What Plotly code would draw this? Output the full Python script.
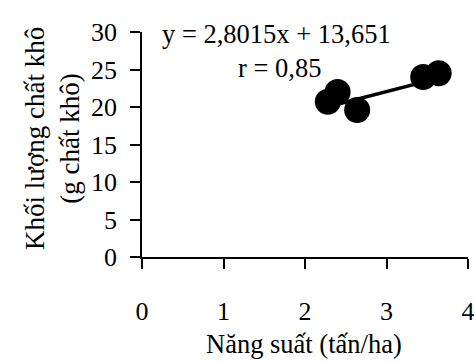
import plotly.graph_objects as go

# Data
nang_suat = [2.28, 2.40, 2.64, 3.45, 3.64]          # tấn/ha
khoi_luong = [20.7, 22.0, 19.6, 24.0, 24.5]          # g chất khô
slope = 2.8015
intercept = 13.651
eq_text = "y = 2,8015x + 13,651"
r_text = "r = 0,85"
x_title = "Năng suất (tấn/ha)"
y_title = "Khối lượng chất khô<br>(g chất khô)"
x_ticks = [0, 1, 2, 3, 4]
y_ticks = [0, 5, 10, 15, 20, 25, 30]

FONT = "Liberation Serif"

x_line = [min(nang_suat), max(nang_suat)]
y_line = [slope * v + intercept for v in x_line]

fig = go.Figure()
fig.add_trace(go.Scatter(x=x_line, y=y_line, mode="lines",
                         line=dict(color="black", width=3.5), showlegend=False))
fig.add_trace(go.Scatter(x=nang_suat, y=khoi_luong, mode="markers",
                         marker=dict(color="black", size=26), showlegend=False))

axis_common = dict(showline=True, linecolor="black", linewidth=1.8,
                   ticks="outside", ticklen=10, tickwidth=1.8, tickcolor="black",
                   showgrid=False, zeroline=False, fixedrange=True,
                   automargin=False, ticklabeloverflow="allow")

fig.update_layout(
    width=474, height=363,
    margin=dict(l=142, r=6, t=32, b=106),
    paper_bgcolor="white", plot_bgcolor="white",
    font=dict(family=FONT, size=26, color="black"),
    xaxis=dict(range=[0, 4], tickvals=x_ticks, ticklabelstandoff=20, **axis_common),
    yaxis=dict(range=[0, 30], tickvals=y_ticks, ticklabelstandoff=8, **axis_common),
    annotations=[
        dict(text=eq_text, xref="paper", yref="paper", x=(276.5 - 142) / 326,
             y=(257 - 33.5) / 225, showarrow=False, font=dict(size=26.5),
             xanchor="center", yanchor="middle"),
        dict(text=r_text, xref="paper", yref="paper", x=(279.5 - 142) / 326,
             y=(257 - 68) / 225, showarrow=False, font=dict(size=26.5),
             xanchor="center", yanchor="middle"),
        dict(text=x_title, xref="paper", yref="paper",
             x=(303.5 - 142) / 326, y=(257 - 344) / 225, showarrow=False,
             font=dict(size=26.5), xanchor="center", yanchor="middle"),
        dict(text=y_title, xref="paper", yref="paper",
             x=(52 - 142) / 326, y=(257 - 139) / 225, showarrow=False, textangle=-90,
             font=dict(size=27), xanchor="center", yanchor="middle"),
    ],
)

fig.write_html("out.html")
